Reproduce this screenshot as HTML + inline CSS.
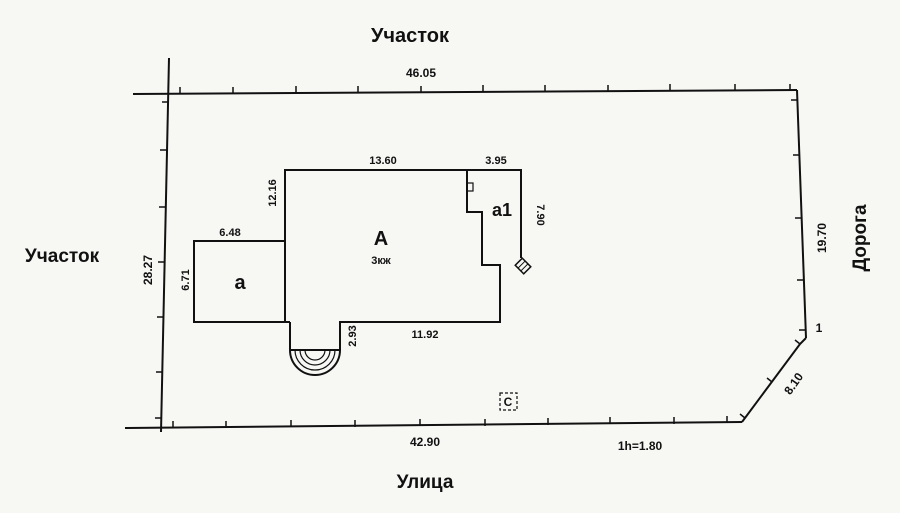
<!DOCTYPE html>
<html><head><meta charset="utf-8"><style>
html,body{margin:0;padding:0;background:#f7f7f4;}
svg{display:block}
text{font-family:"Liberation Sans",sans-serif;font-weight:bold;fill:#111}
</style></head><body>
<svg width="900" height="513" viewBox="0 0 900 513">
<rect width="900" height="513" fill="#f7f7f4"/>
<g stroke="#111" stroke-width="2" fill="none">
<!-- plot boundary -->
<line x1="133" y1="94" x2="797" y2="90"/>
<line x1="169" y1="58" x2="161" y2="432"/>
<line x1="797" y1="90" x2="806" y2="338"/>
<polyline points="806,338 800,344 742,422"/>
<line x1="125" y1="428" x2="742" y2="422"/>
</g>
<g stroke="#111" stroke-width="1.5">
<!-- top ticks -->
<line x1="180" y1="94" x2="180" y2="87"/><line x1="233" y1="94" x2="233" y2="87"/><line x1="296" y1="93" x2="296" y2="86"/><line x1="358" y1="93" x2="358" y2="86"/><line x1="421" y1="93" x2="421" y2="86"/><line x1="483" y1="92" x2="483" y2="85"/><line x1="545" y1="92" x2="545" y2="85"/><line x1="608" y1="92" x2="608" y2="85"/><line x1="670" y1="91" x2="670" y2="84"/><line x1="735" y1="91" x2="735" y2="84"/><line x1="790" y1="91" x2="790" y2="84"/>
<!-- left ticks -->
<line x1="168" y1="102" x2="162" y2="102"/><line x1="167" y1="150" x2="160" y2="150"/><line x1="166" y1="207" x2="159" y2="207"/><line x1="165" y1="262" x2="158" y2="262"/><line x1="164" y1="317" x2="157" y2="317"/><line x1="163" y1="372" x2="156" y2="372"/><line x1="162" y1="418" x2="155" y2="418"/>
<!-- right ticks -->
<line x1="797" y1="100" x2="791" y2="100"/><line x1="799" y1="155" x2="793" y2="155"/><line x1="801" y1="218" x2="795" y2="218"/><line x1="803" y1="280" x2="797" y2="280"/><line x1="805" y1="330" x2="799" y2="330"/>
<line x1="800" y1="344" x2="795" y2="340"/><line x1="772" y1="382" x2="767" y2="378"/><line x1="745" y1="418" x2="740" y2="414"/>
<!-- bottom ticks -->
<line x1="173" y1="428" x2="173" y2="421"/><line x1="226" y1="428" x2="226" y2="421"/><line x1="291" y1="427" x2="291" y2="420"/><line x1="355" y1="427" x2="355" y2="420"/><line x1="420" y1="426" x2="420" y2="419"/><line x1="485" y1="426" x2="485" y2="419"/><line x1="548" y1="425" x2="548" y2="418"/><line x1="610" y1="424" x2="610" y2="417"/><line x1="674" y1="424" x2="674" y2="417"/><line x1="727" y1="423" x2="727" y2="416"/>
</g>
<g stroke="#111" stroke-width="2" fill="none">
<!-- building -->
<polyline points="285,322 285,170 521,170 521,258"/>
<polyline points="467,170 467,212 482,212 482,265 500,265 500,322 340,322 340,350"/>
<polyline points="290,322 290,350"/>
<polyline points="285,322 194,322 194,241 285,241"/>
<line x1="285" y1="322" x2="290" y2="322"/>
<line x1="290" y1="350" x2="340" y2="350"/>
<path d="M290,350 A25,25 0 0 0 340,350"/>
<path d="M295,350 A20,20 0 0 0 335,350" stroke-width="1.2"/>
<path d="M300,350 A15,15 0 0 0 330,350" stroke-width="1.2"/>
<path d="M305,350 A10,10 0 0 0 325,350" stroke-width="1.2"/>
<rect x="467" y="183" width="6" height="8" stroke-width="1.2"/>
<g transform="translate(523,266) rotate(-45)"><rect x="-5" y="-6" width="10" height="12" stroke-width="1.5"/><line x1="-5" y1="-2" x2="5" y2="-2" stroke-width="1"/><line x1="-5" y1="2" x2="5" y2="2" stroke-width="1"/></g>
<rect x="500" y="393" width="17" height="17" stroke-width="1.2" stroke-dasharray="3,2"/>
</g>
<!-- labels -->
<text x="410" y="42" font-size="20" text-anchor="middle">Участок</text>
<text x="421" y="77" font-size="12" text-anchor="middle">46.05</text>
<text x="62" y="262" font-size="19" text-anchor="middle">Участок</text>
<text x="0" y="0" font-size="12" text-anchor="middle" transform="translate(152,270) rotate(-90)">28.27</text>
<text x="0" y="0" font-size="19" text-anchor="middle" transform="translate(866,238) rotate(-90)">Дорога</text>
<text x="0" y="0" font-size="12" text-anchor="middle" transform="translate(826,238) rotate(-90)">19.70</text>
<text x="819" y="332" font-size="12" text-anchor="middle">1</text>
<text x="0" y="0" font-size="12" text-anchor="middle" transform="translate(797,386) rotate(-55)">8.10</text>
<text x="425" y="446" font-size="12" text-anchor="middle">42.90</text>
<text x="640" y="450" font-size="12" text-anchor="middle">1h=1.80</text>
<text x="425" y="488" font-size="19" text-anchor="middle">Улица</text>
<text x="508" y="406" font-size="12" text-anchor="middle">С</text>
<text x="383" y="164" font-size="11" text-anchor="middle">13.60</text>
<text x="496" y="164" font-size="11" text-anchor="middle">3.95</text>
<text x="0" y="0" font-size="11" text-anchor="middle" transform="translate(537,215) rotate(90)">7.90</text>
<text x="0" y="0" font-size="11" text-anchor="middle" transform="translate(276,193) rotate(-90)">12.16</text>
<text x="230" y="236" font-size="11" text-anchor="middle">6.48</text>
<text x="0" y="0" font-size="11" text-anchor="middle" transform="translate(189,280) rotate(-90)">6.71</text>
<text x="0" y="0" font-size="11" text-anchor="middle" transform="translate(356,336) rotate(-90)">2.93</text>
<text x="425" y="338" font-size="11" text-anchor="middle">11.92</text>
<text x="240" y="289" font-size="20" text-anchor="middle">a</text>
<text x="381" y="245" font-size="20" text-anchor="middle" font-weight="normal">A</text>
<text x="381" y="264" font-size="11" text-anchor="middle">3кж</text>
<text x="502" y="216" font-size="18" text-anchor="middle">a1</text>
</svg>
</body></html>
